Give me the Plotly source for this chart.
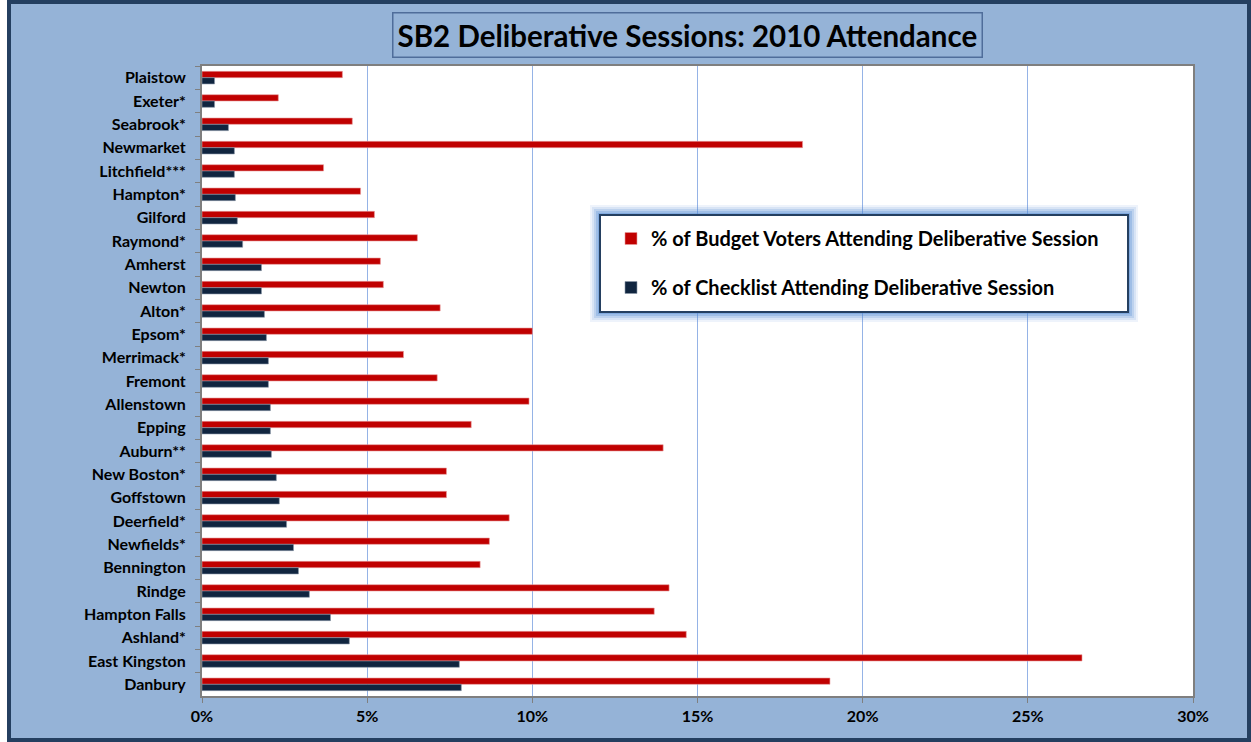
import plotly.graph_objects as go

towns = ["Plaistow", "Exeter*", "Seabrook*", "Newmarket", "Litchfield***", "Hampton*", "Gilford",
         "Raymond*", "Amherst", "Newton", "Alton*", "Epsom*", "Merrimack*", "Fremont", "Allenstown",
         "Epping", "Auburn**", "New Boston*", "Goffstown", "Deerfield*", "Newfields*", "Bennington",
         "Rindge", "Hampton Falls", "Ashland*", "East Kingston", "Danbury"]

budget_voters = [4.25, 2.31, 4.55, 18.18, 3.68, 4.80, 5.22, 6.52, 5.40, 5.49, 7.21, 10.0, 6.10, 7.12,
                 9.90, 8.15, 13.96, 7.40, 7.40, 9.30, 8.70, 8.42, 14.14, 13.69, 14.66, 26.64, 19.01]

checklist = [0.38, 0.38, 0.80, 0.98, 0.98, 1.01, 1.07, 1.23, 1.80, 1.80, 1.89, 1.95, 2.01, 2.01,
             2.07, 2.07, 2.10, 2.25, 2.34, 2.56, 2.77, 2.92, 3.25, 3.89, 4.46, 7.79, 7.85]

x_ticks = [0, 5, 10, 15, 20, 25, 30]
x_tick_labels = ["0%", "5%", "10%", "15%", "20%", "25%", "30%"]

W, H = 1251, 742
L, R, T, B = 202, 1193, 66, 696


def px(x):
    return (x - L) / (R - L)


def py(y):
    return (B - y) / (B - T)


FONT = "Lato"

fig = go.Figure()
fig.add_trace(go.Bar(
    y=towns, x=budget_voters, orientation="h",
    name="% of Budget Voters Attending Deliberative Session",
    marker=dict(color="#C00000", line=dict(color="#E79A9A", width=0.6)),
    legendgroup="a",
))
fig.add_trace(go.Bar(
    y=towns, x=checklist, orientation="h",
    name="% of Checklist Attending Deliberative Session",
    marker=dict(color="#10253F", line=dict(color="#8A97A8", width=0.6)),
    legendgroup="b",
))

shapes = [
    # light blue chart area with dark border
    dict(type="rect", xref="paper", yref="paper", layer="below",
         x0=px(9), x1=px(1249), y0=py(740), y1=py(2),
         fillcolor="#95B3D7", line=dict(color="#243F60", width=4)),
    # white plot area
    dict(type="rect", xref="paper", yref="paper", layer="below",
         x0=0, x1=1, y0=0, y1=1, fillcolor="white", line=dict(width=0)),
]
# legend glow
for pad, op in [(10, 0.10), (8, 0.14), (6, 0.2), (4, 0.28), (2, 0.4)]:
    shapes.append(dict(type="rect", xref="paper", yref="paper", layer="above",
                       x0=px(600 - pad), x1=px(1128 + pad), y0=py(312 + pad), y1=py(215 - pad),
                       fillcolor="rgba(84,141,212,%s)" % op, line=dict(width=0)))
# legend box
shapes.append(dict(type="rect", xref="paper", yref="paper", layer="above",
                   x0=px(600), x1=px(1128), y0=py(312), y1=py(215),
                   fillcolor="white", line=dict(color="#243F60", width=2)))

fig.update_layout(
    width=W, height=H,
    margin=dict(l=L, r=W - R, t=T, b=H - B, pad=0),
    paper_bgcolor="white",
    plot_bgcolor="white",
    barmode="group",
    bargap=0.46,
    bargroupgap=0,
    font=dict(family=FONT, color="black"),
    shapes=shapes,
    showlegend=True,
    legend=dict(
        x=px(611), y=py(219), xanchor="left", yanchor="top",
        bgcolor="rgba(0,0,0,0)", borderwidth=0,
        font=dict(family=FONT, size=20, color="black", weight="bold"),
        traceorder="grouped", tracegroupgap=20,
        itemwidth=30,
    ),
    annotations=[dict(
        text="<b>SB2 Deliberative Sessions: 2010 Attendance</b>",
        xref="paper", yref="paper", x=px(687), y=py(35.5),
        xanchor="center", yanchor="middle", showarrow=False,
        font=dict(family=FONT, size=29.5, color="black"),
        bordercolor="#4F6D9A", borderwidth=1.5, borderpad=4, bgcolor="#95B3D7",
    )],
    xaxis=dict(
        range=[0, 30], tickvals=x_ticks, ticktext=x_tick_labels,
        showgrid=True, gridcolor="#95B3E6", gridwidth=1,
        zeroline=False,
        showline=True, linecolor="#7F7F7F", linewidth=2, mirror=True,
        ticks="outside", ticklen=5, tickcolor="#7F7F7F", tickwidth=1,
        tickfont=dict(family=FONT, size=16, color="black", weight="bold"),
        fixedrange=True,
    ),
    yaxis=dict(
        type="category", autorange="reversed",
        showgrid=False, zeroline=False,
        showline=True, linecolor="#7F7F7F", linewidth=2, mirror=True,
        ticks="outside", ticklen=5, tickcolor="#7F7F7F", tickwidth=1,
        tickson="boundaries",
        tickfont=dict(family=FONT, size=16, color="black", weight="bold"),
        ticklabelstandoff=11,
        fixedrange=True,
    ),
)

fig.write_html("out.html")
